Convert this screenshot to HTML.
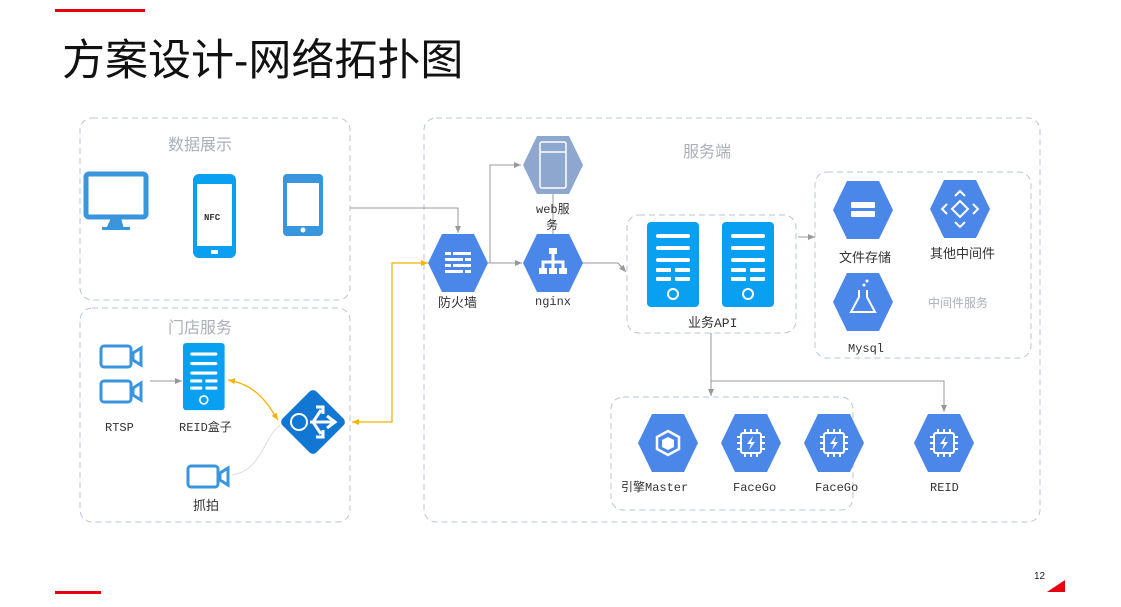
<!DOCTYPE html>
<html><head><meta charset="utf-8"><style>
html,body{margin:0;padding:0;background:#fff;}
svg{display:block;}
text{font-family:"Liberation Mono","Noto Sans CJK SC",monospace;}
.t{font-family:"Liberation Sans","Noto Sans CJK SC",sans-serif;}
</style></head><body>
<svg width="1121" height="607" viewBox="0 0 1121 607" xmlns="http://www.w3.org/2000/svg">
<defs>
<marker id="ag" markerWidth="8" markerHeight="8" refX="7" refY="4" orient="auto" markerUnits="userSpaceOnUse"><path d="M0,1 L7,4 L0,7 z" fill="#999"/></marker>
<marker id="ao" markerWidth="8" markerHeight="8" refX="7" refY="4" orient="auto" markerUnits="userSpaceOnUse"><path d="M0,1 L7,4 L0,7 z" fill="#f5b400"/></marker>
<marker id="aos" markerWidth="8" markerHeight="8" refX="1" refY="4" orient="auto" markerUnits="userSpaceOnUse"><path d="M8,1 L1,4 L8,7 z" fill="#f5b400"/></marker>
<g id="srv">
<rect x="0" y="0" width="52" height="85" rx="4" fill="#0aa0f2"/>
<g fill="#fff"><rect x="9" y="12" width="34" height="4" rx="2"/><rect x="9" y="24" width="34" height="4" rx="2"/><rect x="9" y="36" width="34" height="4" rx="2"/>
<rect x="9" y="46" width="15" height="4" rx="1"/><rect x="28" y="46" width="15" height="4" rx="1"/><rect x="9" y="55" width="15" height="4" rx="1"/><rect x="28" y="55" width="15" height="4" rx="1"/></g>
<circle cx="26" cy="72" r="5" fill="none" stroke="#fff" stroke-width="2"/>
</g>
<g id="cam"><rect x="1" y="1" width="30" height="21" rx="3" fill="none" stroke="#3a96dc" stroke-width="3"/><path d="M33,8 L41,3 L41,20 L33,15 z" fill="none" stroke="#3a96dc" stroke-width="3"/></g>
<path id="hex" d="M-30,0 L-16,-29 L16,-29 L30,0 L16,29 L-16,29 z"/>
</defs>

<rect x="55" y="9" width="90" height="3" fill="#e60012"/>
<rect x="55" y="591" width="46" height="3" fill="#e60012"/>
<path d="M1047,592 L1065,580 L1065,592 z" fill="#e60012"/>
<text x="1034" y="579" font-size="10" class="t" fill="#222">12</text>
<text x="62" y="75" font-size="43" class="t" fill="#111">方案设计-网络拓扑图</text>

<g fill="none" stroke="#b8c4d8" stroke-width="1" stroke-dasharray="6,4">
<rect x="80" y="118" width="270" height="182" rx="12"/>
<rect x="80" y="308" width="270" height="214" rx="12"/>
<rect x="424" y="118" width="616" height="404" rx="12"/>
<rect x="627" y="215" width="169" height="118" rx="12"/>
<rect x="815" y="172" width="216" height="186" rx="12"/>
<rect x="611" y="397" width="242" height="113" rx="12"/>
</g>
<g class="t" fill="#aab0b8">
<text x="168" y="150" font-size="16" class="t">数据展示</text>
<text x="168" y="333" font-size="16" class="t">门店服务</text>
<text x="683" y="157" font-size="16" class="t">服务端</text>
<text x="928" y="307" font-size="12" class="t">中间件服务</text>
</g>

<g fill="none" stroke="#999" stroke-width="1">
<path d="M350,208 L458,208 L458,233" marker-end="url(#ag)"/>
<path d="M486,263 L522,263" marker-end="url(#ag)"/>
<path d="M490,263 L490,165 L521,165" marker-end="url(#ag)"/>
<path d="M553,193 L553,234"/>
<path d="M582,263 L618,263 L626,272" marker-end="url(#ag)"/>
<path d="M798,237 L815,237" marker-end="url(#ag)"/>
<path d="M711,333 L711,396" marker-end="url(#ag)"/>
<path d="M711,381 L944,381 L944,412" marker-end="url(#ag)"/>
<path d="M150,381 L182,381" marker-end="url(#ag)"/>
<path d="M232,475 C262,470 262,440 280,425" stroke="#ddd"/>
</g>
<g fill="none" stroke="#f5b400" stroke-width="1.3">
<path d="M352,422 L392,422 L392,263 L428,263" marker-start="url(#aos)" marker-end="url(#ao)"/>
<path d="M228,380 C258,385 268,405 278,420" marker-start="url(#aos)" marker-end="url(#ao)"/>
</g>

<rect x="86" y="174" width="60" height="43" rx="3" fill="none" stroke="#3a96dc" stroke-width="5"/>
<path d="M111,218 L121,218 L124,229 L106,229 z" fill="#3a96dc"/>
<rect x="102" y="227" width="28" height="3" fill="#3a96dc"/>
<rect x="193" y="174" width="43" height="84" rx="6" fill="#0aa0f2"/>
<rect x="197" y="184" width="35" height="62" fill="#fff"/>
<rect x="211" y="250" width="7" height="4" rx="1" fill="#fff"/>
<text x="204" y="220" font-size="9" font-weight="bold" fill="#333">NFC</text>
<rect x="283" y="174" width="40" height="62" rx="4" fill="#3a96dc"/>
<rect x="287" y="183" width="32" height="43" fill="#fff"/>
<circle cx="303" cy="230" r="2.5" fill="#fff"/>

<use href="#cam" x="100" y="345"/>
<use href="#cam" x="100" y="380"/>
<use href="#cam" x="187" y="465"/>
<g transform="translate(183,343) scale(0.8,0.79)"><use href="#srv"/></g>
<text x="105" y="431" font-size="12" fill="#333">RTSP</text>
<text x="179" y="431" font-size="12" fill="#333">REID盒子</text>
<text x="193" y="510" font-size="13" fill="#333" class="t">抓拍</text>
<g transform="translate(313,422)">
<rect x="-24" y="-24" width="48" height="48" rx="5" transform="rotate(45)" fill="#1276d3"/>
<circle cx="-14" cy="0" r="8" fill="none" stroke="#fff" stroke-width="2"/>
<path d="M-3,0 L22,0 M14,-6 L22,0 L14,6 M0,0 L8,-12 M3,-15 L10,-15 L10,-8 M0,0 L8,12 M3,15 L10,15 L10,8" stroke="#fff" stroke-width="3" fill="none"/>
</g>

<g fill="#4a87e8">
<use href="#hex" x="458" y="263"/>
<use href="#hex" x="553" y="263"/>
<use href="#hex" x="863" y="210"/>
<use href="#hex" x="960" y="209"/>
<use href="#hex" x="863" y="302"/>
<use href="#hex" x="668" y="443"/>
<use href="#hex" x="751" y="443"/>
<use href="#hex" x="834" y="443"/>
<use href="#hex" x="944" y="443"/>
</g>
<use href="#hex" x="553" y="165" fill="#8ea7cf"/>
<rect x="540" y="142" width="26" height="46" rx="2" fill="none" stroke="#fff" stroke-width="1.5"/>
<path d="M540,152 L566,152" stroke="#fff" stroke-width="1.5"/>
<g fill="#fff"><rect x="445" y="252" width="26" height="3"/><rect x="445" y="258" width="26" height="3"/><rect x="445" y="264" width="26" height="3"/><rect x="445" y="270" width="26" height="3"/></g>
<g stroke="#4a87e8" stroke-width="2"><path d="M452,250 V256 M464,256 V262 M452,262 V268 M464,268 V274"/></g>
<g fill="none" stroke="#fff" stroke-width="3"><path d="M553,252 V262 M543,270 V262 H563 V270 M553,262 V270"/></g>
<g fill="#fff"><rect x="549" y="248" width="8" height="6"/><rect x="539" y="268" width="8" height="6"/><rect x="549" y="268" width="8" height="6"/><rect x="559" y="268" width="8" height="6"/></g>
<g fill="#fff"><rect x="851" y="202" width="24" height="6" rx="1"/><rect x="851" y="211" width="24" height="6" rx="1"/></g>
<g fill="none" stroke="#fff" stroke-width="2"><path d="M960,201 L968,209 L960,217 L952,209 z M955,196 L960,191 L965,196 M955,222 L960,227 L965,222 M947,204 L942,209 L947,214 M973,204 L978,209 L973,214"/></g>
<path d="M859,290 V297 L851,312 H875 L867,297 V290" fill="none" stroke="#fff" stroke-width="2"/>
<circle cx="864" cy="285" r="1.5" fill="#fff"/><circle cx="867" cy="281" r="1.5" fill="#fff"/>
<path d="M668,431 L679,437 L679,449 L668,455 L657,449 L657,437 z" fill="none" stroke="#fff" stroke-width="2.5"/>
<path d="M668,437 L674,440 L674,447 L668,450 L662,447 L662,440 z" fill="#fff"/>
<g fill="none" stroke="#fff" stroke-width="2">
<rect x="741" y="433" width="20" height="20" rx="2"/><rect x="824" y="433" width="20" height="20" rx="2"/><rect x="934" y="433" width="20" height="20" rx="2"/>
<path d="M745,429 V433 M751,429 V433 M757,429 V433 M745,453 V457 M751,453 V457 M757,453 V457 M737,437 H741 M737,443 H741 M737,449 H741 M761,437 H765 M761,443 H765 M761,449 H765"/>
<path d="M828,429 V433 M834,429 V433 M840,429 V433 M828,453 V457 M834,453 V457 M840,453 V457 M820,437 H824 M820,443 H824 M820,449 H824 M844,437 H848 M844,443 H848 M844,449 H848"/>
<path d="M938,429 V433 M944,429 V433 M950,429 V433 M938,453 V457 M944,453 V457 M950,453 V457 M930,437 H934 M930,443 H934 M930,449 H934 M954,437 H958 M954,443 H958 M954,449 H958"/>
</g>
<g fill="#fff"><path d="M753,436 L747,444 L751,444 L749,450 L755,442 L751,442 z"/><path d="M836,436 L830,444 L834,444 L832,450 L838,442 L834,442 z"/><path d="M946,436 L940,444 L944,444 L942,450 L948,442 L944,442 z"/></g>

<use href="#srv" x="647" y="222"/>
<use href="#srv" x="722" y="222"/>

<g font-size="12" fill="#333">
<text x="438" y="307" class="t" font-size="13">防火墙</text>
<text x="536" y="213">web服</text>
<text x="546" y="229" class="t">务</text>
<text x="535" y="305">nginx</text>
<text x="688" y="327" font-size="13">业务API</text>
<text x="839" y="262" class="t" font-size="13">文件存储</text>
<text x="930" y="258" class="t" font-size="13">其他中间件</text>
<text x="848" y="352">Mysql</text>
<text x="621" y="491">引擎Master</text>
<text x="733" y="491">FaceGo</text>
<text x="815" y="491">FaceGo</text>
<text x="930" y="491">REID</text>
</g>
</svg>
</body></html>
